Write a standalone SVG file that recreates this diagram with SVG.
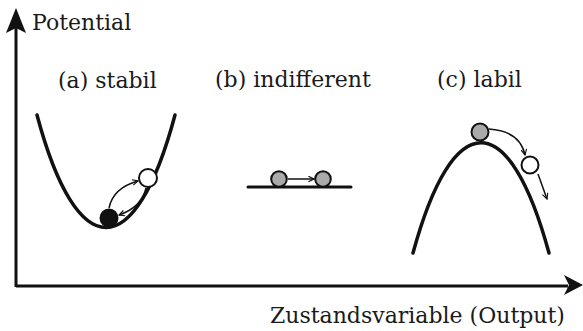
<svg xmlns="http://www.w3.org/2000/svg" width="583" height="331" viewBox="0 0 583 331">
<style>
text{font-family:"DejaVu Serif","Liberation Serif",serif;font-size:22px;fill:#1a1a1a}
.curve{fill:none;stroke:#111;stroke-width:3.5;stroke-linecap:round}
.axis{fill:none;stroke:#111;stroke-width:3}
.ball{stroke:#111;stroke-width:2}
.gray{fill:#aaa}
.white{fill:#fff}
.black{fill:#111}
.arr{fill:none;stroke:#111;stroke-width:1.5;marker-end:url(#chev)}
</style>
<defs>
<marker id="chev" viewBox="0 0 10 10" refX="9" refY="5" markerWidth="7" markerHeight="7" markerUnits="userSpaceOnUse" orient="auto">
<path d="M1,1 L9,5 L1,9" fill="none" stroke="#111" stroke-width="1.6"/>
</marker>
</defs>
<g id="axes">
<path class="axis" d="M16,287 V26 M16,286 H568"/>
<path d="M16,8 L26,33 L16,28 L6,33 Z" fill="#111"/>
<path d="M583,285 L564,275 L569,285 L564,295 Z" fill="#111"/>
<text x="32" y="30">Potential</text>
<text x="270" y="323">Zustandsvariable (Output)</text>
</g>
<g id="stabil">
<text x="58" y="88">(a) stabil</text>
<path class="curve" d="M37,115 C77,265 135,265 175,115"/>
<circle class="ball black" cx="109" cy="218" r="8.5"/>
<circle class="ball white" cx="148" cy="178" r="9"/>
</g>
<g id="indifferent">
<text x="215" y="87">(b) indifferent</text>
<path class="curve" d="M248,187 H351" style="stroke-width:3"/>
<circle class="ball gray" cx="279" cy="179" r="7.8"/>
<circle class="ball gray" cx="323" cy="179" r="7.8"/>
</g>
<g id="labil">
<text x="437" y="87">(c) labil</text>
<path class="curve" d="M413,253 C453,106 509,106 549,253"/>
<circle class="ball gray" cx="480" cy="132" r="8.5"/>
<circle class="ball white" cx="530" cy="165" r="8.5"/>
</g>
<g id="connectors">
<path class="arr" d="M109,208 Q113,188 138,181"/>
<path class="arr" d="M146,188 Q142,207 119,215"/>
<path class="arr" d="M288,179 H314"/>
<path class="arr" d="M489,129 Q520,131 525,155"/>
<path class="arr" d="M538,174 L547,199"/>
</g>
</svg>
